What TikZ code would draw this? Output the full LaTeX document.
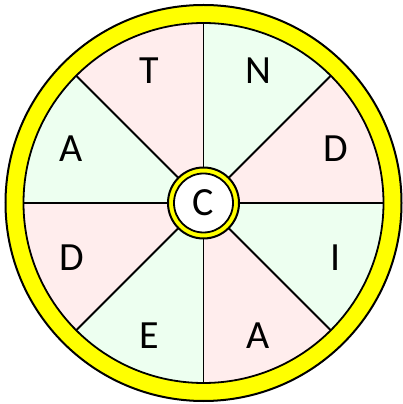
\documentclass[tikz,border=0pt]{standalone}
\usepackage{fontspec}
\setmainfont{Carlito}
\usetikzlibrary{calc}
\definecolor{pinkfill}{RGB}{255,237,237}
\definecolor{greenfill}{RGB}{237,255,240}
\definecolor{ringyellow}{RGB}{255,255,0}
\begin{document}
\begin{tikzpicture}[x=1pt,y=1pt,
  ring/.style={fill=ringyellow,draw=black,line width=2pt},
  spoke/.style={draw=black,line width=1.8pt},
  letter/.style={inner sep=0pt,text height=26pt,text depth=0pt,anchor=center,
    font=\fontsize{40}{48}\selectfont}]
\useasboundingbox (0,0) rectangle (402,404);
\coordinate (O) at (203.5,201);
\path[ring] (O) circle[radius=198];
\foreach \i in {0,...,7}{
  \pgfmathtruncatemacro{\m}{mod(\i,2)}
  \ifnum\m=0 \def\col{pinkfill}\else\def\col{greenfill}\fi
  \fill[\col] (O) -- ++({45*\i}:180) arc[start angle={45*\i},end angle={45*(\i+1)},radius=180] -- cycle;
}
\draw[black,line width=1.8pt] (O) circle[radius=180];
\foreach \i in {0,...,7}{
  \draw[spoke] ($(O)+({45*\i}:30)$) -- ($(O)+({45*\i}:180)$);
}
\path[ring] (O) circle[radius=35.5];
\draw[black,line width=1.8pt,fill=white] (O) circle[radius=29.5];
\node[letter] (c) at (O) {C};
\foreach \t [count=\k from 0] in {D,N,T,A,D,E,A,I}{
  \node[letter] (l\k) at ($(O)+({22.5+45*\k}:143)$) {\t};
}
\end{tikzpicture}
\end{document}
